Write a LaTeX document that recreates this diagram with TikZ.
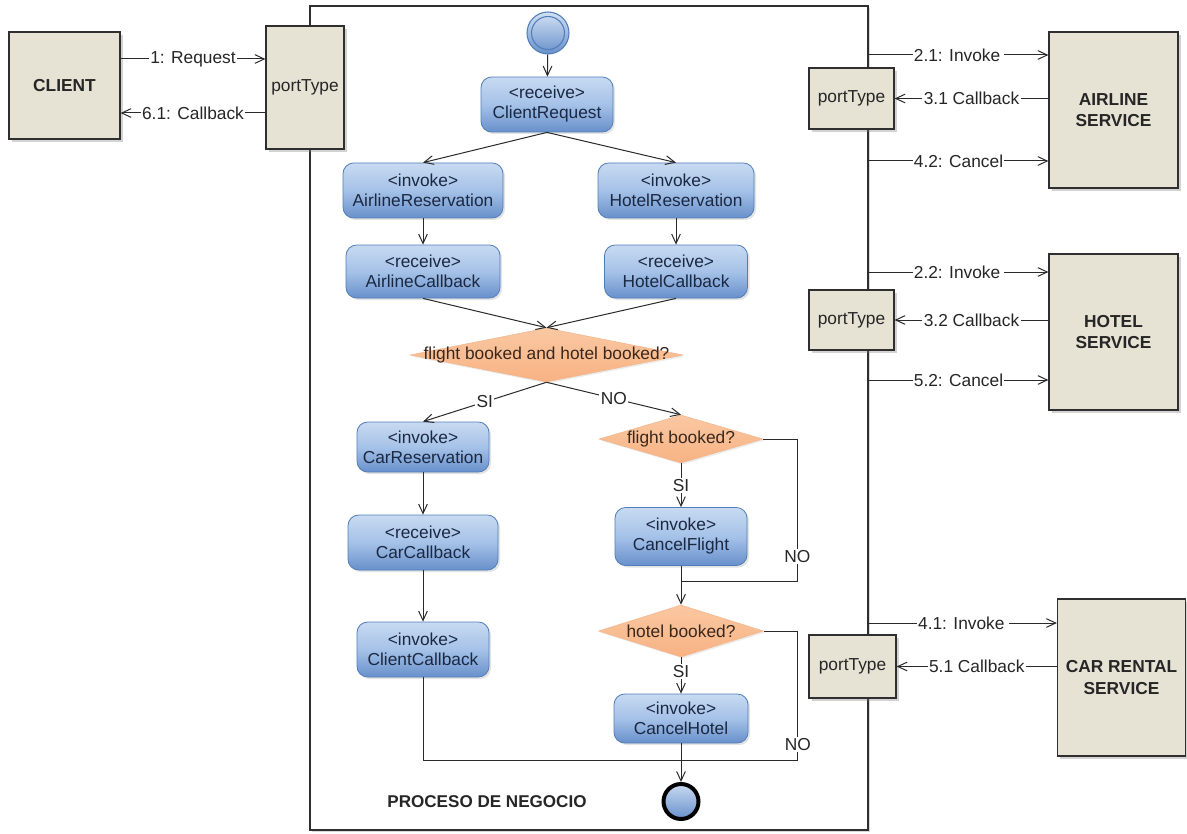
\documentclass[tikz,border=0pt]{standalone}
\usepackage{fontspec}
\setmainfont{Liberation Sans}
\usetikzlibrary{arrows.meta,shapes.geometric,shadows,calc}

\definecolor{boxfill}{HTML}{E6E3D5}
\definecolor{boxline}{HTML}{2F2F2F}
\definecolor{wire}{HTML}{2A2A2A}
\definecolor{actTop}{HTML}{C8DAF1}
\definecolor{actMid}{HTML}{A5C2E8}
\definecolor{actBot}{HTML}{6890CB}
\definecolor{actLine}{HTML}{507EB9}
\definecolor{actText}{HTML}{1B2842}
\definecolor{decTop}{HTML}{FAC8A2}
\definecolor{decMid}{HTML}{F59F63}
\definecolor{decBot}{HTML}{F8B283}
\definecolor{decLine}{HTML}{F2B68C}
\definecolor{decText}{HTML}{3A271C}

\begin{document}
\begin{tikzpicture}[x=0.75pt,y=-0.75pt,
  font=\fontsize{13}{15}\selectfont,
  sz/.style 2 args={minimum width=#1*0.75pt, minimum height=#2*0.75pt},
  ext/.style={draw=boxline, line width=0.9pt, fill=boxfill, inner sep=0pt,
    align=center, text=black!85,
    drop shadow={opacity=0.35, shadow xshift=2.2pt, shadow yshift=-2.2pt}},
  frame/.style={draw=boxline, line width=0.9pt, fill=white, inner sep=0pt,
    drop shadow={opacity=0.3, shadow xshift=1.8pt, shadow yshift=-1.8pt}},
  act/.style={rounded corners=8pt, draw=actLine, line width=0.6pt,
    top color=actTop, bottom color=actBot, middle color=actMid,
    text=actText, align=center, inner sep=0pt,
    drop shadow={opacity=0.22, shadow xshift=1.5pt, shadow yshift=-1.5pt}},
  dec/.style={diamond, draw=decLine, line width=0.4pt,
    top color=decTop, middle color=decMid, bottom color=decBot,
    inner sep=0pt,
    drop shadow={opacity=0.15, shadow xshift=1.2pt, shadow yshift=-1.2pt}},
  dectext/.style={text=decText, inner sep=0pt},
  flow/.style={draw=wire, line width=0.75pt,
    -{Straight Barb[length=7pt,width=6.5pt]}},
  line/.style={draw=wire, line width=0.75pt},
  msg/.style={fill=white, inner sep=1pt, text=black!85},
  lbl/.style={fill=white, inner sep=1pt, text=black!85},
]
\useasboundingbox (0,0) rectangle (1187,834);

% business process frame
\node[frame, sz={558}{824}] (proc) at (589,418) {};
\node[font=\fontsize{12.8}{15}\selectfont\bfseries, text=black!85] (title) at (487,802) {PROCESO DE NEGOCIO};

% partners and their port types
\node[ext, sz={111}{107}, font=\fontsize{13}{15}\selectfont\bfseries] (client) at (64.5,85.5) {CLIENT};
\node[ext, sz={78}{123}] (lport) at (305,87.5) {portType};

\node[ext, sz={129}{156}, font=\fontsize{13}{16}\selectfont\bfseries] (airline) at (1113.5,110) {AIRLINE\\SERVICE};
\node[ext, sz={85}{61}] (aport) at (851.5,98.5) {portType};

\node[ext, sz={129}{156}, font=\fontsize{13}{16}\selectfont\bfseries] (hotel) at (1113.5,332) {HOTEL\\SERVICE};
\node[ext, sz={85}{60}] (hport) at (851.5,320) {portType};

\node[ext, sz={128}{157}, font=\fontsize{13}{16}\selectfont\bfseries] (car) at (1121.5,677.5) {CAR RENTAL\\SERVICE};
\node[ext, sz={87}{63}] (cport) at (852.5,666.5) {portType};

% message rows
\path (0,59) coordinate (yreq) (0,113) coordinate (ycb)
      (0,55) coordinate (y21) (0,161) coordinate (y42)
      (0,272) coordinate (y22) (0,380) coordinate (y52)
      (0,623) coordinate (y41);

\draw[flow] (client.east |- yreq) -- node[msg]{1: Request} (lport.west |- yreq);
\draw[flow] (lport.west |- ycb) -- node[msg]{6.1: Callback} (client.east |- ycb);

\draw[flow] (proc.east |- y21) -- node[msg]{2.1: Invoke\,} (airline.west |- y21);
\draw[flow] (airline.west |- aport) -- node[msg]{3.1 Callback} (aport.east);
\draw[flow] (proc.east |- y42) -- node[msg]{4.2: Cancel} (airline.west |- y42);

\draw[flow] (proc.east |- y22) -- node[msg]{2.2: Invoke\,} (hotel.west |- y22);
\draw[flow] (hotel.west |- hport) -- node[msg]{3.2 Callback} (hport.east);
\draw[flow] (proc.east |- y52) -- node[msg]{5.2: Cancel} (hotel.west |- y52);

\draw[flow] (proc.east |- y41) -- node[msg]{4.1: Invoke\,} (car.west |- y41);
\draw[flow] (car.west |- cport) -- node[msg]{5.1 Callback} (cport.east);

% activities
\node[circle, draw=actLine, line width=0.8pt, top color=actTop!80!white, bottom color=actBot,
      minimum size=42*0.75pt, inner sep=0pt,
      path picture={\draw[actLine, line width=0.8pt] (path picture bounding box.center) circle (16.5*0.75pt);}] (start) at (548,33) {};

\node[act, sz={132}{55}] (cr) at (547,104.5) {<receive>\\ClientRequest};
\node[act, sz={160}{55}] (ar) at (423,190.5) {<invoke>\\AirlineReservation};
\node[act, sz={156}{55}] (hr) at (676,190.5) {<invoke>\\HotelReservation};
\node[act, sz={154}{53}] (ac) at (423,271.5) {<receive>\\AirlineCallback};
\node[act, sz={143}{53}] (hc) at (676,271.5) {<receive>\\HotelCallback};

\node[dec, sz={273}{54}, label={[dectext]center:flight booked and hotel booked?}] (d1) at (546.5,355) {};

\node[act, sz={132}{50}] (carr) at (423,447) {<invoke>\\CarReservation};
\node[act, sz={150}{55}] (carc) at (423,542.5) {<receive>\\CarCallback};
\node[act, sz={132}{55}] (clc) at (423,649.5) {<invoke>\\ClientCallback};

\node[dec, sz={164}{48}, label={[dectext]center:flight booked?}] (d2) at (681,439) {};
\node[act, sz={132}{58}] (cf) at (681,536.5) {<invoke>\\CancelFlight};
\node[dec, sz={165}{52}, label={[dectext]center:hotel booked?}] (d3) at (681,631) {};
\node[act, sz={134}{49}] (ch) at (681,718.5) {<invoke>\\CancelHotel};

\node[circle, draw=black, line width=3pt, top color=actTop, bottom color=actBot,
      minimum size=35*0.75pt, inner sep=0pt] (end) at (681,801.5) {};

% control flow
\draw[flow] (start) -- (cr);
\draw[flow] (cr.south) -- (ar.north);
\draw[flow] (cr.south) -- (hr.north);
\draw[flow] (ar) -- (ac);
\draw[flow] (hr) -- (hc);
\draw[flow] (ac.south) -- (d1.north);
\draw[flow] (hc.south) -- (d1.north);
\draw[flow] (d1.south) -- node[lbl]{SI} (carr.north);
\draw[flow] (d1.south) -- node[lbl]{NO} (d2.north);
\draw[flow] (carr) -- (carc);
\draw[flow] (carc) -- (clc);

\draw[flow] (d2) -- node[lbl]{SI} (cf);
\path (cf.south) ++(0,16) coordinate (j1);
\draw[line] (d2.east) -- ++(34,0) coordinate (k1) -- (k1 |- j1) node[lbl, pos=0.82]{NO} -- (j1);
\draw[flow] (cf) -- (d3);

\draw[flow] (d3) -- node[lbl, pos=0.4]{SI} (ch);
\path (ch.south) ++(0,17) coordinate (j2);
\draw[line] (clc.south) |- (j2);
\draw[line] (d3.east) -- ++(34,0) coordinate (k2) -- (k2 |- j2) node[lbl, pos=0.88]{NO} -- (j2);
\draw[flow] (ch) -- (end);
\end{tikzpicture}
\end{document}
